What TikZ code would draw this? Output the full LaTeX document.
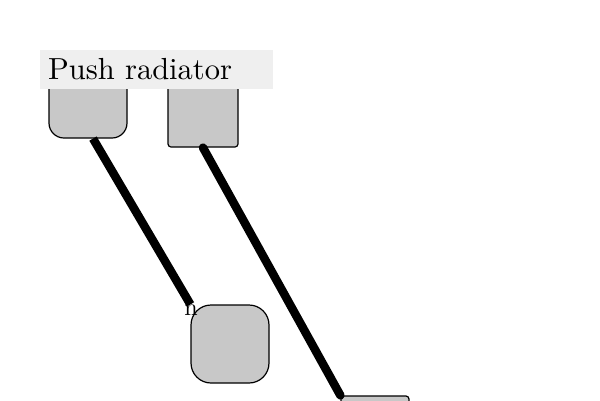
\documentclass[tikz,border=0pt]{standalone}
\usepackage{fontspec}
\setmainfont{lmroman10-regular.otf}
\usepackage{xcolor}
\usepackage{tikz}
\usetikzlibrary{positioning}

\definecolor{boxgray}{RGB}{200,200,200}
\definecolor{titlegray}{RGB}{239,239,239}

\begin{document}
\begin{tikzpicture}[
    x=1pt, y=-1pt,
    box/.style={rectangle, draw, line width=1.2pt, fill=boxgray, inner sep=0pt},
    link/.style={line width=8.5pt},
    title/.style={rectangle, fill=titlegray, minimum width=233pt, minimum height=39pt, text width=217pt, inner xsep=8pt, inner ysep=0pt, align=left, font=\fontsize{30.5}{34}\selectfont}
]

% Canvas
\clip (0,0) rectangle (600,400);
\fill[white] (0,0) rectangle (600,400);

% Boxes
\node[box, minimum width=78pt, minimum height=78pt, rounded corners=15pt] (upleft) at (88,99) {};
\node[box, minimum width=70pt, minimum height=70pt, rounded corners=3pt] (upright) at (203,112) {};
\node[box, minimum width=78pt, minimum height=78pt, rounded corners=20pt] (lowleft) at (230,344) {};
\node[box, minimum width=68pt, minimum height=68pt, rounded corners=3pt] (lowright) at (375,430) {};

% Labels
\node[font=\fontsize{24}{24}\selectfont, inner sep=0pt, anchor=base] (nmark) at (191,315) {n};

% Links
\draw[link] ([xshift=5pt]upleft.south) -- (lowleft.north west);
\draw[link, line cap=round] (upright.south) -- (lowright.north west);

% Title
\node[title, anchor=west] (heading) at (40,69.5) {Push radiator};

\end{tikzpicture}
\end{document}
